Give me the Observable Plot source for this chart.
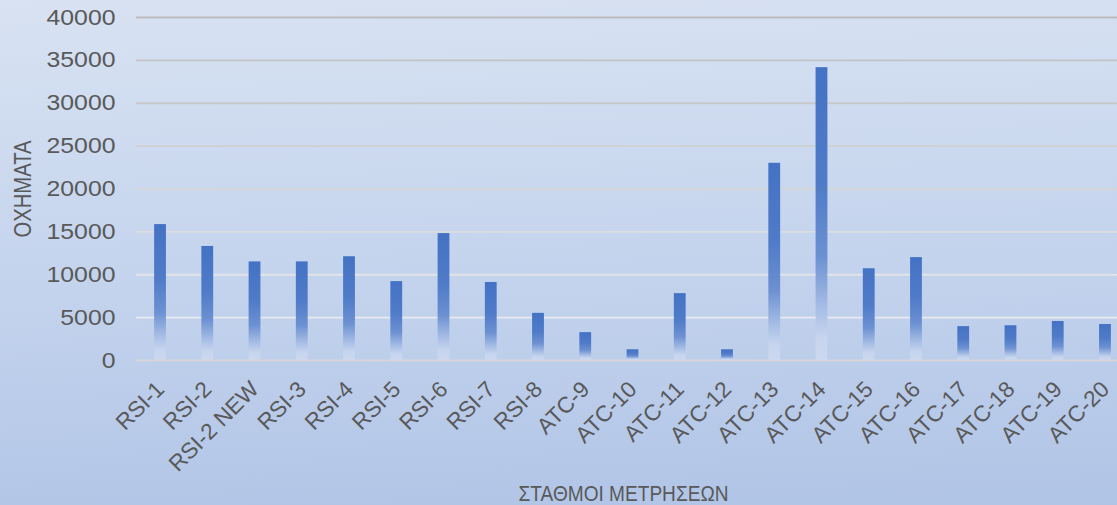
<!DOCTYPE html>
<html>
<head>
<meta charset="utf-8">
<script src="https://cdn.jsdelivr.net/npm/d3@7"></script>
<script src="https://cdn.jsdelivr.net/npm/@observablehq/plot@0.6"></script>
<style>
  html, body { margin: 0; padding: 0; }
  body {
    width: 1117px; height: 505px; overflow: hidden;
    background: linear-gradient(178deg, #d8e2f2 0%, #c3d3ed 55%, #b0c4e6 100%);
  }
  svg text { fill: #595959; }
  g[aria-label="y-axis tick label"] text { font-size: 22px; }
  g[aria-label="x-axis tick label"] text { font-size: 22.5px; }
</style>
</head>
<body>
<div id="chart"></div>
<script>
const stations = ["RSI-1","RSI-2","RSI-2 NEW","RSI-3","RSI-4","RSI-5","RSI-6","RSI-7","RSI-8",
  "ATC-9","ATC-10","ATC-11","ATC-12","ATC-13","ATC-14","ATC-15","ATC-16","ATC-17","ATC-18","ATC-19","ATC-20"];
const vehicles = [15850,13300,11500,11500,12100,9200,14800,9100,5500,
  3250,1250,7800,1250,23000,34150,10700,12000,3950,4050,4550,4200];
const yTicks = [0,5000,10000,15000,20000,25000,30000,35000,40000];
const xTitle = "ΣΤΑΘΜΟΙ ΜΕΤΡΗΣΕΩΝ";
const yTitle = "ΟΧΗΜΑΤΑ";

const data = stations.map((s, i) => ({station: s, value: vehicles[i]}));
const gridColor = d3.interpolateRgb("#bcbcbc", "#eef0f4");

const chart = Plot.plot({
  width: 1117,
  height: 505,
  marginTop: 17,
  marginBottom: 145,
  marginLeft: 136,
  marginRight: 0,
  style: {fontFamily: "'Liberation Sans', Arial, sans-serif", color: "#595959", background: "transparent", overflow: "hidden"},
  x: {domain: stations, range: [136.4, 1128.6], paddingInner: 0.75, paddingOuter: 0.375, round: false},
  y: {domain: [0, 40000], range: [360, 17]},
  marks: [
    Plot.ruleY(yTicks.filter(d => d > 0), {y: d => d, stroke: d => gridColor(1 - d / 40000), strokeWidth: 1.8}),
    Plot.ruleY([0], {stroke: "#d6d6d6", strokeWidth: 2}),
    Plot.barY(data, {x: "station", y: "value", fill: "url(#barGrad)"}),
    Plot.axisY({ticks: yTicks, tickSize: 0, tickPadding: 21, tickFormat: d => String(d), label: null}),
    Plot.axisX({tickSize: 0, tickPadding: 25, tickRotate: -45, label: null}),
    Plot.text([yTitle], {frameAnchor: "left", rotate: -90, dx: -113, fontSize: 23, lineAnchor: "middle", textAnchor: "middle"}),
    Plot.text([xTitle], {frameAnchor: "bottom", dx: -3.5, dy: 133.5, fontSize: 22, lineAnchor: "middle", textAnchor: "middle"})
  ]
});

const svg = d3.select(chart);
const defs = svg.insert("defs", ":first-child");
const g = defs.append("linearGradient").attr("id", "barGrad")
  .attr("x1", 0).attr("y1", 0).attr("x2", 0).attr("y2", 1);
[[0, "#4472c4"], [0.4, "#4f7bc8"], [0.65, "#6d91d2"], [0.82, "#a6bde5"], [0.92, "#c6d4ee"], [1, "#cbd8ef"]]
  .forEach(([o, c]) => g.append("stop").attr("offset", o).attr("stop-color", c));

// match the reference's glyph widths
svg.selectAll('g[aria-label="y-axis tick label"] text').each(function () {
  const n = this.textContent.length;
  d3.select(this).attr("textLength", n * 13.8).attr("lengthAdjust", "spacingAndGlyphs");
});
svg.selectAll("text").filter(function () { return this.textContent === xTitle; })
  .attr("textLength", 210).attr("lengthAdjust", "spacingAndGlyphs");
svg.selectAll("text").filter(function () { return this.textContent === yTitle; })
  .attr("textLength", 97).attr("lengthAdjust", "spacingAndGlyphs");

document.getElementById("chart").appendChild(chart);
</script>
</body>
</html>
